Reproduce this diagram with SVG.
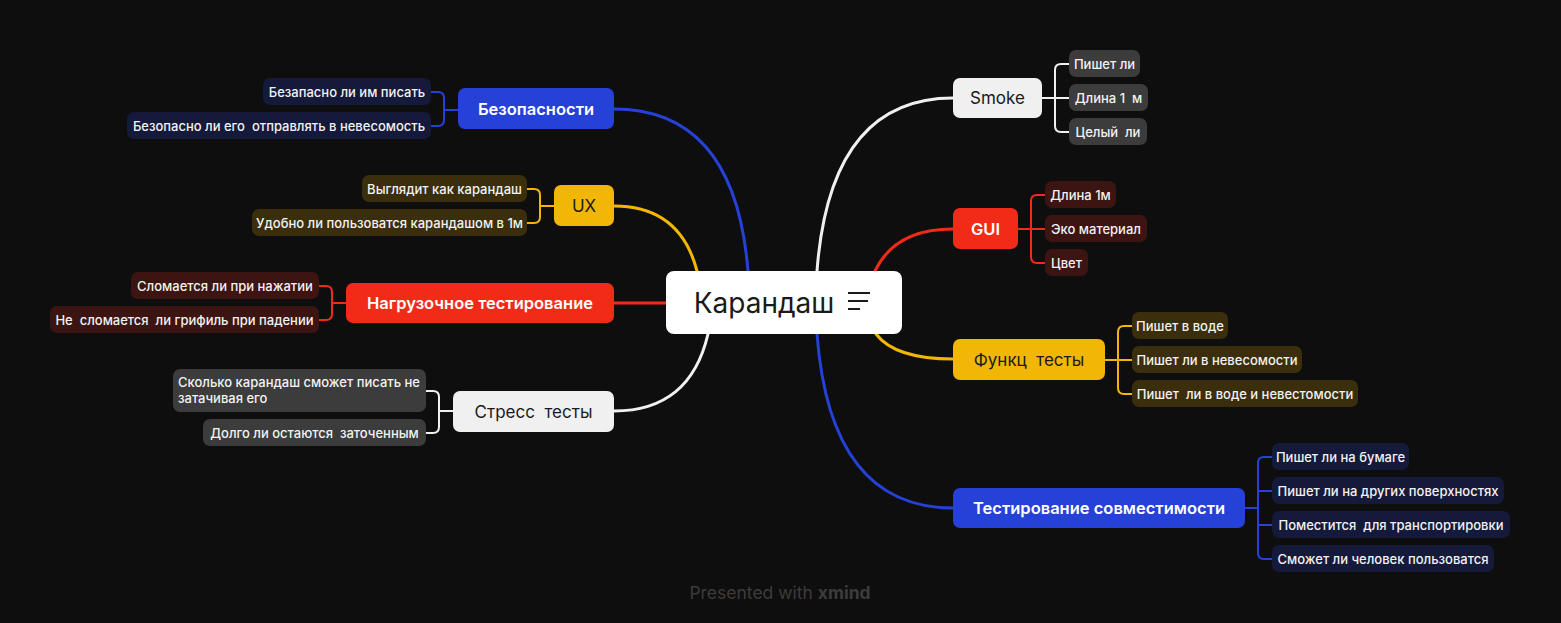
<svg xmlns="http://www.w3.org/2000/svg" width="1561" height="623" viewBox="0 0 1561 623">
<style>
text{font-family:Inter,"Noto Sans",sans-serif;}
.ct{font-size:13px;font-weight:500;fill:#f2f2f2;text-anchor:middle;dominant-baseline:central;}
.mt{text-anchor:middle;dominant-baseline:central;}
.mb{font-size:16.5px;font-weight:600;fill:#ffffff;}
.md{font-size:17px;font-weight:400;fill:#1a1a1a;}
.c-blue{fill:#2641d8;}
.c-red{fill:#f22b19;}
.c-yel{fill:#f1b606;}
.c-lt{fill:#f0f0f0;}
.k-blue{fill:#15193a;}
.k-red{fill:#3c1512;}
.k-yel{fill:#3a2e0d;}
.k-gr{fill:#3c3c3c;}
.l{fill:none;stroke-width:3;stroke-linecap:round;}
.s{fill:none;stroke-width:2;stroke-linecap:round;}
.sb{stroke:#2641d8;}
.sr{stroke:#f22b19;}
.sy{stroke:#f1b606;}
.sw{stroke:#f0f0f0;}
</style>
<rect width="1561" height="623" fill="#0e0e0e"/>
<g id="connectors">
<path class="l sb" d="M614,109 Q735,109 748,271"/>
<path class="l sy" d="M614,206 Q680,206 697,271"/>
<path class="l sr" d="M614,303 H666"/>
<path class="l sw" d="M614,411 Q690,411 708,334"/>
<path class="l sw" d="M953,98 Q830,98 817,271"/>
<path class="l sr" d="M953,229 Q895,229 875,271"/>
<path class="l sy" d="M953,359 Q895,359 876,334"/>
<path class="l sb" d="M953,508 Q830,508 817,334"/>
<path class="s sb" d="M458,110 H444 M431,92 H438 Q444,92 444,98 V120 Q444,126 438,126 H431"/>
<path class="s sy" d="M554,206 H540 M527,189 H534 Q540,189 540,195 V217 Q540,223 534,223 H527"/>
<path class="s sr" d="M346,303 H332 M319,286 H326 Q332,286 332,292 V314 Q332,320 326,320 H319"/>
<path class="s sw" d="M453,411 H439 M426,391 H433 Q439,391 439,397 V427 Q439,433 433,433 H426"/>
<path class="s sw" d="M1042,98 H1069 M1069,64 H1061 Q1055,64 1055,70 V126 Q1055,132 1061,132 H1069"/>
<path class="s sr" d="M1018,229 H1045 M1045,195 H1037 Q1031,195 1031,201 V257 Q1031,263 1037,263 H1045"/>
<path class="s sy" d="M1105,360 H1132 M1132,326 H1124 Q1118,326 1118,332 V388 Q1118,394 1124,394 H1132"/>
<path class="s sb" d="M1245,508 H1258 M1272,457 H1264 Q1258,457 1258,463 V553 Q1258,559 1264,559 H1272 M1258,491 H1272 M1258,525 H1272"/>
</g>
<g id="center">
<rect x="666" y="271" width="236" height="63" rx="8" fill="#ffffff"/>
<text x="764" y="303" font-size="28" fill="#1a1a1a" text-anchor="middle" dominant-baseline="central">Карандаш</text>
<path d="M848,293 H870 M848,301 H868 M848,309 H860" stroke="#1a1a1a" stroke-width="2" fill="none"/>
</g>
<g id="n-bez">
<rect class="c-blue" x="458" y="88" width="156" height="41" rx="7"/>
<text class="mt mb" x="536" y="109">Безопасности</text>
</g>
<g id="n-bez-1"><rect class="k-blue" x="263" y="78" width="168" height="27" rx="7"/><text class="ct" x="347" y="92">Безапасно ли им писать</text></g>
<g id="n-bez-2"><rect class="k-blue" x="127" y="112" width="304" height="27" rx="7"/><text class="ct" x="279" y="126" xml:space="preserve">Безопасно ли его  отправлять в невесомость</text></g>
<g id="n-ux">
<rect class="c-yel" x="554" y="185" width="60" height="41" rx="7"/>
<text class="mt md" x="584" y="206">UX</text>
</g>
<g id="n-ux-1"><rect class="k-yel" x="362" y="175" width="165" height="27" rx="7"/><text class="ct" x="444.5" y="189">Выглядит как карандаш</text></g>
<g id="n-ux-2"><rect class="k-yel" x="252" y="209" width="275" height="27" rx="7"/><text class="ct" x="389.5" y="223">Удобно ли пользоватся карандашом в 1м</text></g>
<g id="n-load">
<rect class="c-red" x="346" y="283" width="268" height="40" rx="7"/>
<text class="mt mb" x="480" y="303">Нагрузочное тестирование</text>
</g>
<g id="n-load-1"><rect class="k-red" x="131" y="272" width="188" height="27" rx="7"/><text class="ct" x="225" y="286">Сломается ли при нажатии</text></g>
<g id="n-load-2"><rect class="k-red" x="50" y="306" width="269" height="27" rx="7"/><text class="ct" x="184.5" y="320" xml:space="preserve">Не  сломается  ли грифиль при падении</text></g>
<g id="n-stress">
<rect class="c-lt" x="453" y="391" width="161" height="41" rx="7"/>
<text class="mt md" x="533.5" y="412" xml:space="preserve">Стресс  тесты</text>
</g>
<g id="n-stress-1"><rect class="k-gr" x="173" y="369" width="253" height="43" rx="7"/>
<text font-size="13" font-weight="500" fill="#f2f2f2" x="178" y="387">Сколько карандаш сможет писать не</text>
<text font-size="13" font-weight="500" fill="#f2f2f2" x="178" y="403">затачивая его</text></g>
<g id="n-stress-2"><rect class="k-gr" x="203" y="419" width="223" height="27" rx="7"/><text class="ct" x="314.5" y="433" xml:space="preserve">Долго ли остаются  заточенным</text></g>
<g id="n-smoke">
<rect class="c-lt" x="953" y="78" width="89" height="40" rx="7"/>
<text class="mt md" x="997.5" y="98">Smoke</text>
</g>
<g id="n-smoke-1"><rect class="k-gr" x="1069" y="50" width="71" height="27" rx="7"/><text class="ct" x="1104.5" y="64">Пишет ли</text></g>
<g id="n-smoke-2"><rect class="k-gr" x="1069" y="84" width="79" height="27" rx="7"/><text class="ct" x="1108.5" y="98" xml:space="preserve">Длина 1  м</text></g>
<g id="n-smoke-3"><rect class="k-gr" x="1069" y="118" width="78" height="27" rx="7"/><text class="ct" x="1108" y="132" xml:space="preserve">Целый  ли</text></g>
<g id="n-gui">
<rect class="c-red" x="953" y="208" width="65" height="41" rx="7"/>
<text class="mt mb" x="985.5" y="229">GUI</text>
</g>
<g id="n-gui-1"><rect class="k-red" x="1045" y="181" width="71" height="27" rx="7"/><text class="ct" x="1080.5" y="195">Длина 1м</text></g>
<g id="n-gui-2"><rect class="k-red" x="1045" y="215" width="102" height="27" rx="7"/><text class="ct" x="1096" y="229">Эко материал</text></g>
<g id="n-gui-3"><rect class="k-red" x="1045" y="249" width="43" height="27" rx="7"/><text class="ct" x="1066.5" y="263">Цвет</text></g>
<g id="n-func">
<rect class="c-yel" x="953" y="339" width="152" height="41" rx="7"/>
<text class="mt md" x="1029" y="360" xml:space="preserve">Функц  тесты</text>
</g>
<g id="n-func-1"><rect class="k-yel" x="1132" y="312" width="96" height="27" rx="7"/><text class="ct" x="1180" y="326">Пишет в воде</text></g>
<g id="n-func-2"><rect class="k-yel" x="1132" y="346" width="170" height="27" rx="7"/><text class="ct" x="1217" y="360">Пишет ли в невесомости</text></g>
<g id="n-func-3"><rect class="k-yel" x="1132" y="380" width="226" height="27" rx="7"/><text class="ct" x="1245" y="394" xml:space="preserve">Пишет  ли в воде и невестомости</text></g>
<g id="n-compat">
<rect class="c-blue" x="953" y="488" width="292" height="40" rx="7"/>
<text class="mt mb" x="1099" y="508">Тестирование совместимости</text>
</g>
<g id="n-compat-1"><rect class="k-blue" x="1272" y="443" width="137" height="27" rx="7"/><text class="ct" x="1340.5" y="457">Пишет ли на бумаге</text></g>
<g id="n-compat-2"><rect class="k-blue" x="1272" y="477" width="232" height="27" rx="7"/><text class="ct" x="1388" y="491">Пишет ли на других поверхностях</text></g>
<g id="n-compat-3"><rect class="k-blue" x="1272" y="511" width="238" height="27" rx="7"/><text class="ct" x="1391" y="525" xml:space="preserve">Поместится  для транспортировки</text></g>
<g id="n-compat-4"><rect class="k-blue" x="1272" y="545" width="222" height="27" rx="7"/><text class="ct" x="1383" y="559">Сможет ли человек пользоватся</text></g>
<text x="780" y="592" font-size="17.5" fill="#3c3c3c" text-anchor="middle" dominant-baseline="central">Presented with <tspan font-weight="700">xmind</tspan></text>
</svg>
